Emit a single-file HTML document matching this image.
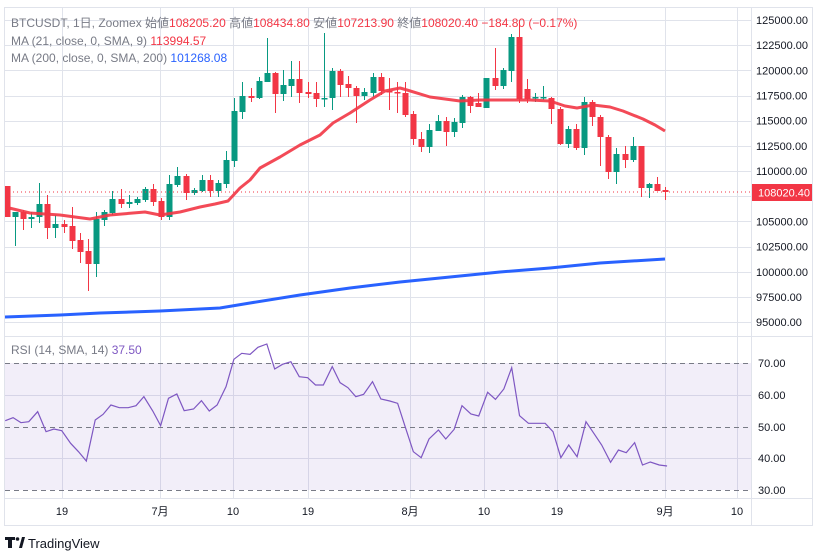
<!DOCTYPE html>
<html><head><meta charset="utf-8">
<style>
html,body{margin:0;padding:0;background:#fff;width:817px;height:560px;overflow:hidden;font-family:"Liberation Sans","Noto Sans CJK JP",sans-serif;}
svg text{font-family:"Liberation Sans","Noto Sans CJK JP",sans-serif;}
</style></head><body>
<svg id="s" width="817" height="560" xmlns="http://www.w3.org/2000/svg">
<rect x="0" y="0" width="817" height="560" fill="#fff"/>
<g id="grid" stroke="#e0e3eb" stroke-width="1"></g>
<rect x="5" y="363" width="746" height="127" fill="#7e57c2" fill-opacity="0.1"/>
<g stroke="#787b86" stroke-width="1" stroke-dasharray="5,4">
<line x1="5" y1="363.5" x2="751" y2="363.5"/>
<line x1="5" y1="427.5" x2="751" y2="427.5"/>
<line x1="5" y1="490.5" x2="751" y2="490.5"/>
</g>
<g id="candles"></g>
<polyline fill="none" stroke="#f23645" stroke-opacity="0.9" stroke-width="3" stroke-linejoin="round" points="5,207 30,213 60,215 90,219 110,215 145,212 160,215 180,212 200,207 215,204 228,201 240,188 250,180 260,168 280,157 300,145 320,135 333,123 350,113 370,100 385,91 400,88 407,90 430,97 460,101 480,100 507,100 530,100 550,101 565,106 577,108 593,105 610,107 623,111 643,119 655,125 665,131"/>
<polyline fill="none" stroke="#2962ff" stroke-width="3" points="5,317 60,315 100,313 160,311 220,308 250,303 300,295 350,288 400,282 450,277 500,272 550,268 600,263 665,259"/>
<line x1="5" y1="192" x2="751" y2="192" stroke="#f23645" stroke-width="1" stroke-dasharray="1,3"/>
<g transform="translate(0,335) scale(0.5232,0.33333)">
<polyline fill="none" stroke="#7e57c2" stroke-width="1.2" vector-effect="non-scaling-stroke" points="10,257 25,248 40,263 55,260 72,230 88,290 103,282 118,287 135,325 150,350 165,378 182,255 197,238 212,210 228,218 245,218 260,212 275,185 292,228 307,272 322,190 338,177 352,227 370,222 385,197 400,228 415,210 432,155 447,73 462,55 478,58 493,37 510,27 525,102 540,88 556,80 572,125 588,128 603,150 618,150 635,95 650,143 665,158 680,185 695,178 712,140 728,192 745,198 760,205 775,278 790,350 805,368 820,312 838,285 852,312 868,283 883,212 900,237 915,243 932,172 947,193 963,162 978,98 993,242 1010,265 1025,265 1042,265 1057,290 1072,368 1087,330 1103,365 1120,260 1135,295 1150,330 1167,382 1182,345 1197,353 1213,323 1228,390 1243,381 1260,390 1275,393"/>
</g>
<g id="frame" fill="none" stroke="#e0e3eb" stroke-width="1">
<rect x="4.5" y="7.5" width="808" height="518"/>
<line x1="751.5" y1="7" x2="751.5" y2="525"/>
<line x1="4" y1="336.5" x2="813" y2="336.5"/>
<line x1="4" y1="498.5" x2="813" y2="498.5"/>
</g>
<g id="plab" font-size="11" fill="#131722"></g>
<rect x="752" y="184" width="60" height="17" fill="#f23645"/>
<text x="758" y="196.5" font-size="11" fill="#fff">108020.40</text>
<g font-size="11" fill="#131722">
<text x="758" y="367">70.00</text><text x="758" y="399">60.00</text><text x="758" y="431">50.00</text><text x="758" y="462">40.00</text><text x="758" y="494">30.00</text>
</g>
<g font-size="11" fill="#131722" text-anchor="middle">
<text x="62" y="515">19</text><text x="160" y="515">7月</text><text x="233" y="515">10</text><text x="308" y="515">19</text><text x="410" y="515">8月</text><text x="484" y="515">10</text><text x="557" y="515">19</text><text x="665" y="515">9月</text><text x="737" y="515">10</text>
</g>
<g font-size="12">
<text x="11" y="27" fill="#787b86">BTCUSDT, 1日, Zoomex  始値<tspan fill="#f23645">108205.20</tspan>  高値<tspan fill="#f23645">108434.80</tspan>  安値<tspan fill="#f23645">107213.90</tspan>  終値<tspan fill="#f23645">108020.40</tspan>  <tspan fill="#f23645">−184.80 (−0.17%)</tspan></text>
<text x="11" y="45" fill="#787b86">MA (21, close, 0, SMA, 9) <tspan fill="#f23645"> 113994.57</tspan></text>
<text x="11" y="62" fill="#787b86">MA (200, close, 0, SMA, 200) <tspan fill="#2962ff"> 101268.08</tspan></text>
<text x="11" y="354" fill="#787b86">RSI (14, SMA, 14) <tspan fill="#7e57c2"> 37.50</tspan></text>
</g>
<g>
<rect x="5" y="537" width="10" height="3" fill="#131722"/><rect x="8" y="537" width="4" height="11" fill="#131722"/>
<circle cx="17.5" cy="539" r="1.8" fill="#131722"/><polygon points="19,548 22,537 25,537 22,548" fill="#131722"/>
<text x="28" y="548" font-size="13" fill="#131722">TradingView</text>
</g>
</svg>
<script>
var NS="http://www.w3.org/2000/svg";
function el(p,t,a){var e=document.createElementNS(NS,t);for(var k in a)e.setAttribute(k,a[k]);p.appendChild(e);return e;}
var g=document.getElementById('grid');
[62,160,233,308,410,484,557,665,737].forEach(function(x){el(g,'line',{x1:x+.5,y1:7,x2:x+.5,y2:498});});
var pl=document.getElementById('plab');
for(var i=0;i<=12;i++){var p=125000-i*2500;var y=20+(125000-p)*0.01007;
el(g,'line',{x1:5,y1:Math.round(y)+.5,x2:751,y2:Math.round(y)+.5});
var t=el(pl,'text',{x:756,y:y+4});t.textContent=p.toFixed(2);}
[395,458].forEach(function(y){el(g,'line',{x1:5,y1:y+.5,x2:751,y2:y+.5});});
var D=[[186,217,186,217],[217,212,212,246],[212,219,210,230],[219,217,212,228],[217,204,183,223],[204,228,195,239],[228,224,215,238],[224,227,220,233],[226,241,207,249],[240,252,233,263],[251,264,239,291],[264,219,212,277],[220,212,210,226],[213,199,191,215],[199,204,189,208],[204,202,195,208],[203,199,197,205],[200,189,187,202],[189,202,184,206],[201,217,198,220],[217,184,175,220],[185,176,167,187],[176,193,174,200],[193,190,188,195],[191,180,175,192],[180,191,175,197],[191,183,180,197],[184,160,151,188],[161,111,98,167],[112,96,82,119],[96,98,88,102],[98,81,77,99],[82,73,38,82],[73,94,72,113],[94,85,70,101],[86,79,61,97],[79,93,61,103],[92,94,82,98],[93,99,82,107],[99,98,33,107],[98,71,68,110],[71,85,69,97],[84,88,76,97],[88,96,86,123],[96,92,88,100],[93,77,73,97],[77,91,73,95],[91,92,78,110],[92,93,82,113],[93,115,82,117],[114,139,111,145],[139,147,132,152],[147,130,124,153],[131,121,115,131],[121,132,117,146],[132,122,118,137],[123,97,95,128],[97,106,96,113],[103,107,93,107],[108,78,78,108],[78,86,48,90],[86,70,68,89],[71,37,34,82],[37,99,20,103],[89,99,79,103],[98,97,93,102],[98,97,86,100],[98,109,97,124],[109,144,107,145],[144,129,126,148],[129,148,124,150],[148,102,97,155],[102,117,100,126],[117,137,115,166],[137,172,135,179],[172,154,148,184],[154,160,146,168],[160,146,137,162],[146,188,146,197],[188,184,183,198],[184,191,177,191],[190,192,187,200]];
var c=document.getElementById('candles');
D.forEach(function(d,i){var x=6.7+i*8.13;var col=d[1]<d[0]?'#089981':'#f23645';
var top=Math.min(d[0],d[1]),bot=Math.max(d[0],d[1]);if(bot-top<1.5)bot=top+1.5;
el(c,'rect',{x:Math.round(x),y:Math.min(d[2],top),width:1,height:Math.max(d[3],bot)-Math.min(d[2],top),fill:col});
el(c,'rect',{x:Math.round(x)-2.5,y:top,width:6,height:bot-top,fill:col});});
</script>
</body></html>
